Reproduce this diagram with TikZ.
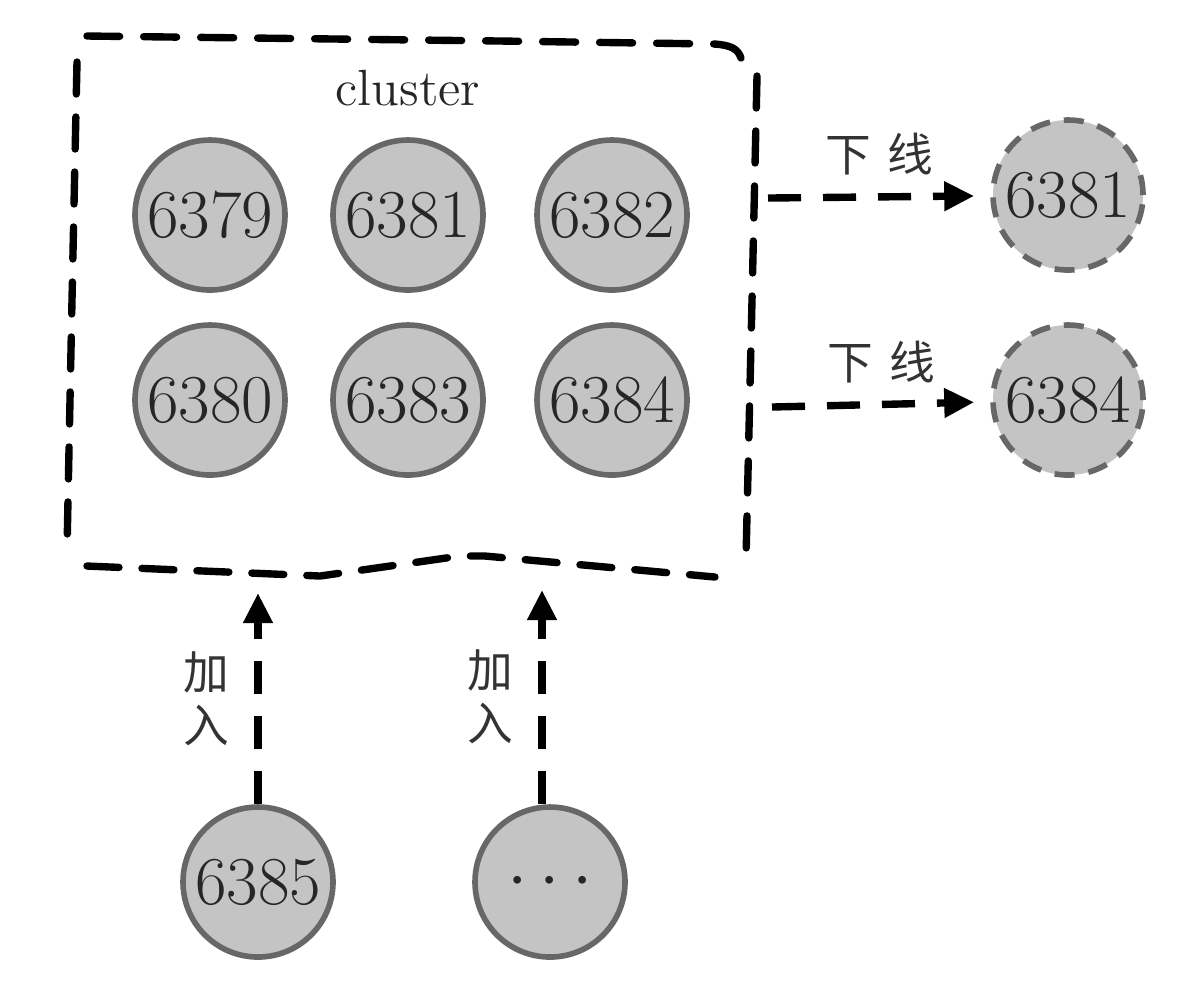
\documentclass[tikz,border=0pt]{standalone}
\usepackage{fontspec}
\newfontfamily\cjk{Noto Sans CJK SC}
\usetikzlibrary{arrows.meta}

\definecolor{nodegray}{HTML}{C4C4C4}
\definecolor{rimgray}{HTML}{676767}

\tikzset{
    server/.style={circle,draw=rimgray,line width=1.6pt,fill=nodegray,
        minimum size=1.5cm,inner sep=0pt,text=black!85,
        font=\fontsize{19.5}{21}\selectfont},
    gone/.style={server,dash pattern=on 2mm off 1.4mm},
    boxline/.style={line width=2.1pt,line cap=round,dash pattern=on 3.2mm off 2.3mm},
    tag/.style={font=\cjk\fontsize{13}{15}\selectfont,text=black!80,inner sep=0pt}
}

\begin{document}
\begin{tikzpicture}[x=0.1mm,y=-0.1mm]
\useasboundingbox (0,0) rectangle (1192,982);

% the cluster, drawn by hand
\draw[boxline,dash pattern=on 3.3mm off 2.4mm] (741,58) .. controls (738,49) and (731,45) .. (714,44) -- (500,41) -- (87,36);
\draw[boxline] (757,76) -- (752,300) -- (746,558);
\draw[boxline] (77,62) -- (72,300) -- (67,550);
\draw[boxline] (87,566) -- (320,576) -- (460,556) -- (485,556) -- (715,577);
\node (title) at (408,88) [text=black!85,font=\fontsize{14.5}{16}\selectfont] {cluster};

\begin{scope}[every node/.style={server}]
    \node (1) at (210,215) {6379};
    \node (2) at (408,215) {6381};
    \node (3) at (612,215) {6382};
    \node (4) at (210,400) {6380};
    \node (5) at (408,400) {6383};
    \node (6) at (612,400) {6384};

    \node (7) at (1068,195) [gone] {6381};
    \node (8) at (1068,400) [gone] {6384};

    \node (9) at (258,882) {6385};
    \node (10) at (550,882) {$\cdots$};
\end{scope}

\coordinate (o1) at (768,198);
\coordinate (o2) at (772,407);
\coordinate (j1) at (258,593);
\coordinate (j2) at (542,590);

\begin{scope}[>={Triangle[length=3mm,width=2.8mm]},
              every edge/.style={draw,line width=2.1pt,dash pattern=on 3.3mm off 2.2mm}]
    \path [->] (o1) edge[shorten >=1.6mm] node[tag,above=1.8mm] {下\hspace{1.6mm}线} (7);
    \path [->] (o2) edge[shorten >=1.6mm] node[tag,above=1.8mm] {下\hspace{1.6mm}线} (8);
    \path [->] (9) edge node[tag,left=2.5mm,align=center] {加\\入} (j1);
    \path [->] (10.north -| j2) edge node[tag,left=2.5mm,align=center] {加\\入} (j2);
\end{scope}
\end{tikzpicture}
\end{document}
